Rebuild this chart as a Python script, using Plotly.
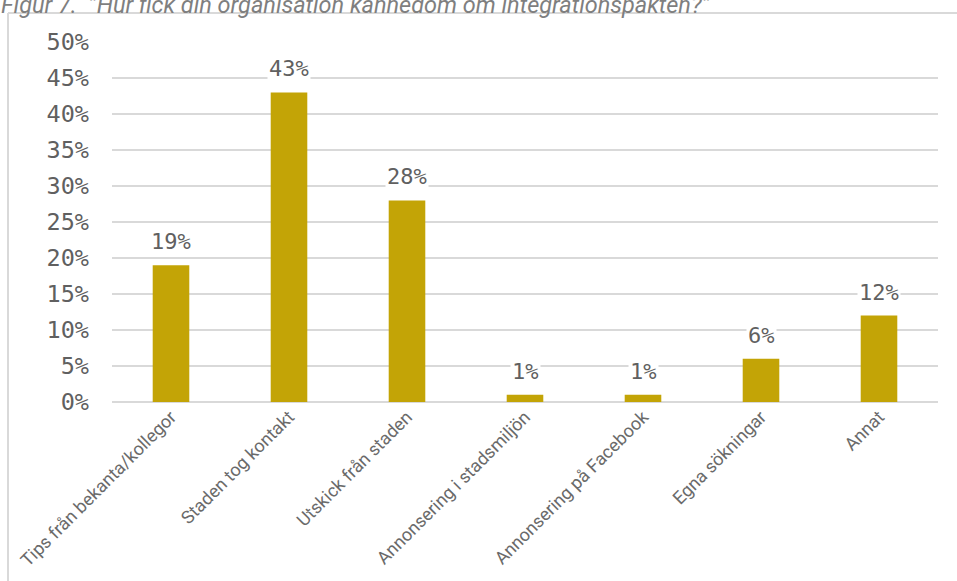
import plotly.graph_objects as go

categories = ["Tips från bekanta/kollegor", "Staden tog kontakt", "Utskick från staden",
              "Annonsering i stadsmiljön", "Annonsering på Facebook", "Egna sökningar", "Annat"]
values = [19, 43, 28, 1, 1, 6, 12]
tick_vals = [0, 5, 10, 15, 20, 25, 30, 35, 40, 45, 50]
tick_text = [f"{v}%" for v in tick_vals]
title_text = "Figur 7.  \u201dHur fick din organisation kännedom om integrationspakten?\u201d"

BAR = "#C3A406"
GRID = "#D9D9D9"
TXT = "#606060"

fig = go.Figure()
fig.add_trace(go.Bar(x=categories, y=values, marker=dict(color=BAR, line=dict(width=0)),
                     hoverinfo="skip"))

for c, v in zip(categories, values):
    fig.add_annotation(x=c, y=v, xref="x", yref="y", text=f"{v}%", showarrow=False,
                       yanchor="bottom", yshift=9, bgcolor="white",
                       font=dict(family="DejaVu Sans Mono", size=22, color=TXT))

fig.add_annotation(x=0, y=1, xref="paper", yref="paper", xanchor="left", yanchor="middle",
                   xshift=-113, yshift=37, text=f"<i>{title_text}</i>", showarrow=False,
                   font=dict(family="Roboto", size=23.5, color="#7F7F7F"))

# frame lines
fig.add_shape(type="line", xref="paper", yref="paper", x0=-0.1259, x1=-0.1259,
              y0=1.0805, y1=-0.5, line=dict(color=GRID, width=2))
fig.add_shape(type="line", xref="paper", yref="paper", x0=-0.1259, x1=1.03,
              y0=1.0805, y1=1.0805, line=dict(color=GRID, width=2))

fig.update_layout(
    width=957, height=581,
    margin=dict(l=112, r=19, t=42, b=179),
    paper_bgcolor="white", plot_bgcolor="white",
    bargap=0.69, showlegend=False,
    xaxis=dict(tickangle=-45, tickfont=dict(family="Roboto", size=18, color="#6A6A6A"),
               showgrid=False, showline=False, ticks=""),
    yaxis=dict(range=[0, 50], tickvals=tick_vals, ticktext=tick_text,
               tickfont=dict(family="DejaVu Sans Mono", size=23.5, color=TXT),
               showgrid=True, gridcolor=GRID, gridwidth=1.5,
               zeroline=True, zerolinecolor=GRID, zerolinewidth=2,
               ticklabelstandoff=22, showline=False),
)

fig.write_html("out.html", config={"displayModeBar": False},
               post_script="document.body.style.margin='0';")
